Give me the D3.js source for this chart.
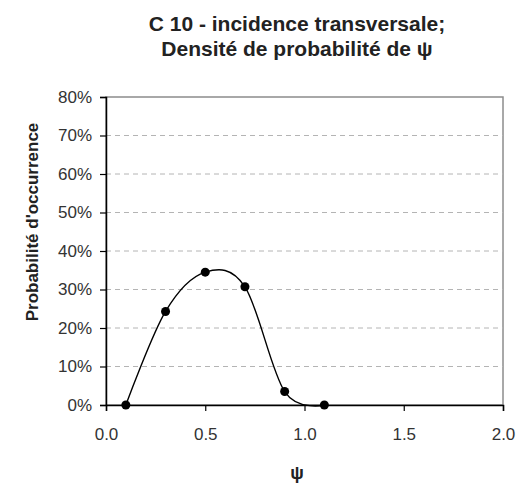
<!DOCTYPE html>
<html>
<head>
<meta charset="utf-8">
<script src="https://cdn.jsdelivr.net/npm/d3@7"></script>
<style>
  body { margin: 0; background: #fff; }
  svg text { font-family: "Liberation Sans", Arial, sans-serif; }
</style>
</head>
<body>
<div id="chart"></div>
<script>
// data
const psiValues = [0.1, 0.3, 0.5, 0.7, 0.9, 1.1];
const probValues = [0.0, 0.243, 0.345, 0.307, 0.035, 0.0];
const xTicks = [0, 0.5, 1.0, 1.5, 2.0];
const yTicks = [0, 0.1, 0.2, 0.3, 0.4, 0.5, 0.6, 0.7, 0.8];
const titleLines = ["C 10 - incidence transversale;", "Densité de probabilité de ψ"];

const width = 517, height = 484;
const margin = { top: 97, right: 14, bottom: 79, left: 106 };

const svg = d3.select("#chart").append("svg")
  .attr("width", width)
  .attr("height", height);

const innerW = width - margin.left - margin.right;
const innerH = height - margin.top - margin.bottom;

const x = d3.scaleLinear().domain([0, 2]).range([0, innerW]);
const y = d3.scaleLinear().domain([0, 0.8]).range([innerH, 0]);

const g = svg.append("g")
  .attr("transform", `translate(${margin.left},${margin.top})`);

// plot area border (top / right in grey)
g.append("rect")
  .attr("x", 0).attr("y", 0)
  .attr("width", innerW).attr("height", innerH)
  .attr("fill", "none")
  .attr("stroke", "#8c8c8c")
  .attr("stroke-width", 1.5);

// dashed gridlines
g.selectAll(".grid")
  .data(yTicks.filter(d => d > 0 && d < 0.8))
  .join("line")
  .attr("class", "grid")
  .attr("x1", 0).attr("x2", innerW)
  .attr("y1", d => y(d)).attr("y2", d => y(d))
  .attr("stroke", "#b4b4b4")
  .attr("stroke-width", 1)
  .attr("stroke-dasharray", "5,4");

// axes
const yAxis = g.append("g")
  .call(d3.axisLeft(y).tickValues(yTicks).tickFormat(d3.format(".0%")).tickSize(6).tickPadding(8));
const xAxis = g.append("g")
  .attr("transform", `translate(0,${innerH})`)
  .call(d3.axisBottom(x).tickValues(xTicks).tickFormat(d3.format(".1f")).tickSize(6).tickPadding(17));

[xAxis, yAxis].forEach(a => {
  a.select(".domain").attr("stroke", "#000").attr("stroke-width", 1.5);
  a.selectAll(".tick line").attr("stroke", "#000").attr("stroke-width", 1.2);
  a.selectAll(".tick text")
    .attr("fill", "#333")
    .style("font-size", "17px");
});

// smoothed line
const line = d3.line()
  .x((d, i) => x(psiValues[i]))
  .y(d => y(d))
  .curve(d3.curveCatmullRom.alpha(0));

g.append("path")
  .datum(probValues)
  .attr("fill", "none")
  .attr("stroke", "#000")
  .attr("stroke-width", 1.4)
  .attr("d", line);

g.selectAll(".pt")
  .data(probValues)
  .join("circle")
  .attr("class", "pt")
  .attr("cx", (d, i) => x(psiValues[i]))
  .attr("cy", d => y(d))
  .attr("r", 4.5)
  .attr("fill", "#000");

// titles
svg.append("text")
  .attr("text-anchor", "middle")
  .attr("font-weight", "bold")
  .attr("font-size", "21px")
  .attr("fill", "#222")
  .selectAll("tspan")
  .data(titleLines)
  .join("tspan")
  .attr("x", 297)
  .attr("y", (d, i) => 31 + i * 25)
  .text(d => d);

svg.append("text")
  .attr("text-anchor", "middle")
  .attr("font-weight", "bold")
  .attr("font-size", "17px")
  .attr("fill", "#222")
  .attr("transform", "translate(38,222) rotate(-90)")
  .text("Probabilité d'occurrence");

svg.append("text")
  .attr("text-anchor", "middle")
  .attr("font-weight", "bold")
  .attr("font-size", "18px")
  .attr("fill", "#222")
  .attr("x", 297)
  .attr("y", 479)
  .text("ψ");
</script>
</body>
</html>
